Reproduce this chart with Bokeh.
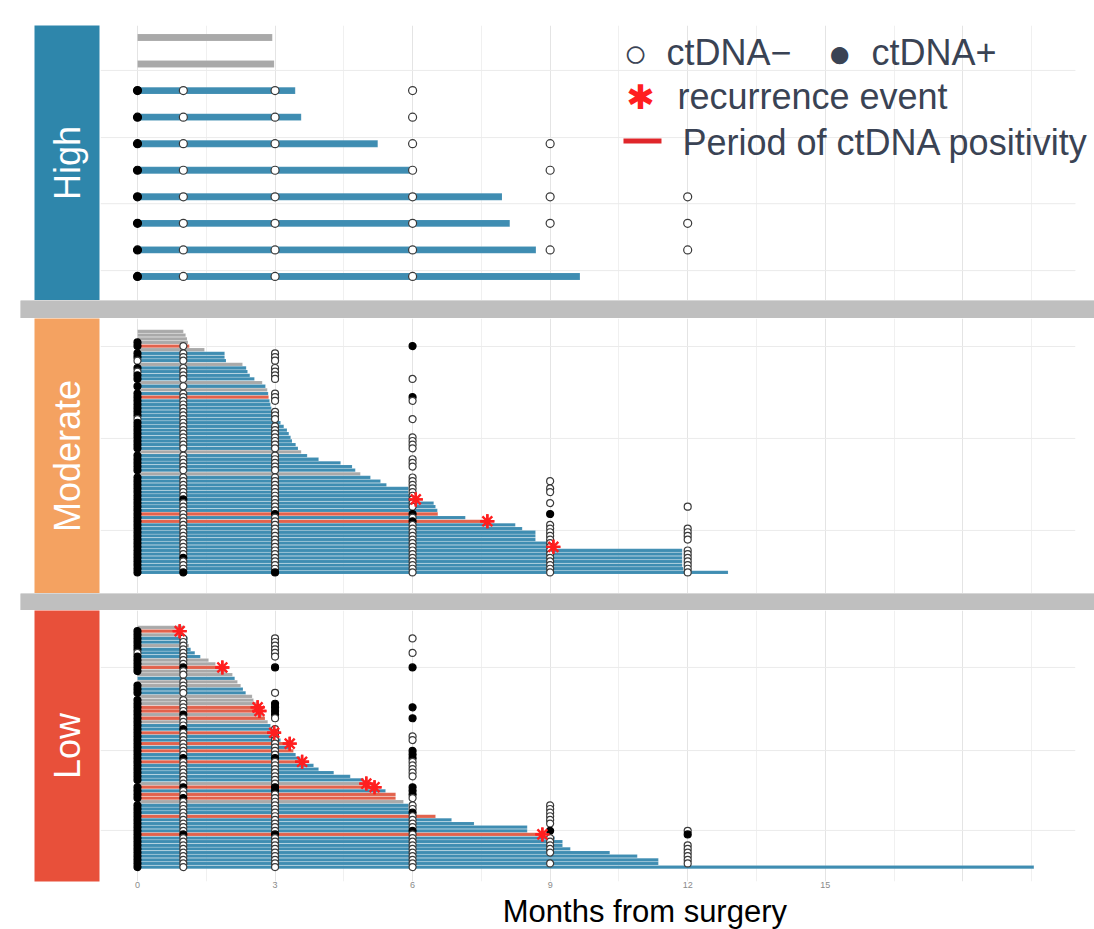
import math
from bokeh.plotting import figure
from bokeh.layouts import column, row
from bokeh.models import Range1d, FixedTicker, Label, ColumnDataSource
from bokeh.core.properties import value
from bokeh.embed import file_html
from bokeh.resources import INLINE

# ---------------- data ----------------
sample_months = [0, 1, 3, 6, 9, 12]          # ctDNA draw times
x_tick_months = [0, 3, 6, 9, 12, 15]
grid_major = [0, 3, 6, 9, 12, 15, 18]
grid_minor = [1.5, 4.5, 7.5, 10.5, 13.5, 16.5, 19.5]
panel_names = ["High", "Moderate", "Low"]

# bar colour codes: b = follow-up, g = no ctDNA data, r = period of ctDNA positivity
# sample codes per draw time: + ctDNA positive, o ctDNA negative, . no sample
high_end = [2.94, 2.98, 3.44, 3.57, 5.24, 6.00, 7.95, 8.12, 8.69, 9.65]
high_color = "ggbbbbbbbb"
high_samples = ["......", "......", "+ooo..", "+ooo..", "+oooo.",
                "+oooo.", "+ooooo", "+ooooo", "+ooooo", "+ooo.."]
high_star_row = []
high_star_month = []

mod_end = [1.00, 1.05, 1.08, 1.10, 1.13, 1.46, 1.90, 1.90, 1.93, 2.29,
           2.37, 2.40, 2.45, 2.55, 2.72, 2.79, 2.83, 2.85, 2.86, 2.88,
           2.90, 2.92, 2.95, 2.97, 3.08, 3.12, 3.19, 3.26, 3.30, 3.34,
           3.37, 3.45, 3.50, 3.57, 3.70, 3.95, 4.43, 4.68, 4.75, 4.86,
           5.08, 5.30, 5.43, 5.91, 5.91, 5.95, 6.07, 6.46, 6.50, 6.54,
           6.55, 7.15, 7.63, 8.24, 8.39, 8.68, 8.68, 8.68, 8.94, 9.07,
           11.88, 11.88, 11.88, 11.88, 11.88, 11.90, 12.88]
mod_color = ("ggggrgbbbg" "bbbbgbgbrb" "bbbbbbbbbb" "bbbgbbbbbg"
             "bbbbbbbbbb" "rbrbbbbbbb" "bbbbbbb")
mod_samples = ["......", "......", "......", "+.....", "+o.+..", "......", "+oo...", "+oo...", "ooo...", "......",
               "+oo...", "ooo...", "+oo...", "+ooo..", "......", "+o....", "......", "+oo...", "+oo+..", "+ooo..",
               "+o....", "+o....", "+oo...", "+oo...", "oooo..", "+o....", "+oo...", "+oo...", "+oo...", "+ooo..",
               "+ooo..", "+ooo..", "+ooo..", "......", "+oo...", "+ooo..", "+ooo..", "+ooo..", "+oo...", "......",
               "+ooo..", "+oooo.", "+ooo..", "+oooo.", "+oooo.", "+ooo..", "++oo..", "+oooo.", "+ooo.o", "+oo...",
               "+o+++.", "+ooo..", "+oo+..", "+oooo.", "+ooooo", "+ooooo", "+ooooo", "+ooooo", "+oooo.", "+oooo.",
               "+ooooo", "+ooooo", "++oooo", "+ooooo", "+ooooo", "+ooooo", "+++ooo"]
mod_star_row = [46, 52, 59]
mod_star_month = [6.07, 7.63, 9.07]

low_end = [1.00, 0.92, 1.02, 1.09, 1.09, 1.12, 1.16, 1.25, 1.37, 1.55,
           1.70, 1.85, 1.95, 2.07, 2.12, 2.18, 2.25, 2.30, 2.36, 2.50,
           2.53, 2.58, 2.62, 2.66, 2.72, 2.78, 2.84, 2.90, 2.93, 2.98,
           3.08, 3.12, 3.32, 3.35, 3.40, 3.45, 3.55, 3.59, 3.84, 3.95,
           4.28, 4.64, 4.93, 4.99, 5.17, 5.41, 5.63, 5.63, 5.80, 5.91,
           5.91, 5.95, 6.50, 6.85, 7.34, 8.50, 8.50, 8.83, 9.10, 9.27,
           9.27, 9.44, 10.30, 10.90, 11.36, 11.36, 19.55]
low_color = ("grgbbgbbbg" "grggbggbbg" "ggrrgrgbbr" "bbrbrbbrbb"
             "bbbgrbrrgb" "bbrbbbbrbb" "bbbbbbb")
low_samples = ["......", "+.....", "+.....", "+ooo..", "+oo...", "+oo...", "+oo...", "oooo..", "+oo...", "+o....",
               "+o....", "++++..", "+o....", ".o....", "......", ".o....", "+o....", "+o....", "+oo...", "......",
               "+o....", "+o+...", "+o++..", "+o+...", "+++...", "+oo+..", "+o....", "+o....", "++o...", "+oo...",
               "+ooo..", "+ooo..", "+oo...", "+oo...", "+oo+..", "+oo+..", "++++..", "+ooo..", "+ooo..", "+ooo..",
               "+ooo..", "+ooo..", "+oo...", ".oo...", "++++..", "+o++..", "+oo+..", "++oo..", ".oo...", "+oooo.",
               "+oooo.", "+oo+o.", "+oooo.", "+oooo.", "+oooo.", "+ooo..", "+oo++o", "+++o.+", "+oooo.", "+oooo.",
               "+ooooo", "+ooooo", "+ooooo", "+ooo.o", "+ooo.o", "+ooooo", "+ooo.."]
low_star_row = [1, 11, 22, 23, 29, 32, 37, 43, 44, 57]
low_star_month = [0.92, 1.85, 2.62, 2.66, 2.98, 3.32, 3.59, 4.99, 5.17, 8.83]

# ---------------- style ----------------
BLUE, GREY, RED = "#3f8db2", "#a9a9a9", "#e2624c"
FILL = {"b": BLUE, "g": GREY, "r": RED}
STRIP = ["#2e86ab", "#f4a261", "#e8503a"]
STAR = "#ff1f1f"
TXT = "#3a4354"
FONT = "Liberation Sans"

PANEL_X = (-0.807, 20.458)          # months shown inside each facet panel
XR = Range1d(*PANEL_X)
XR_HIGH = Range1d(-0.807, 20.873)   # same scale, frame reaches the page edge (legend)


def build_panel(end, colors, samples, star_row, star_month, height, top_b, bottom_b,
                y_top, y_bottom, bar_h, dot_size, grid_rows, with_axis, xr, right_b):
    p = figure(width=994, height=height, x_range=xr,
               y_range=Range1d(start=y_bottom, end=y_top),
               output_backend="svg", toolbar_location=None,
               min_border_left=0, min_border_right=right_b,
               min_border_top=top_b, min_border_bottom=bottom_b)
    p.outline_line_color = None
    p.background_fill_color = "white"
    p.border_fill_color = "white"
    p.yaxis.visible = False
    if with_axis:
        ax = p.xaxis[0]
        ax.ticker = FixedTicker(ticks=x_tick_months)
        ax.axis_line_color = None
        ax.major_tick_line_color = None
        ax.minor_tick_line_color = None
        ax.major_tick_out = 0
        ax.major_tick_in = 0
        ax.major_label_standoff = 0
        ax.major_label_text_font = FONT
        ax.major_label_text_font_size = "9px"
        ax.major_label_text_color = "#8a8a8a"
    else:
        p.xaxis.visible = False
    p.xgrid.ticker = FixedTicker(ticks=grid_major, minor_ticks=grid_minor)
    p.xgrid.grid_line_color = "#e4e4e4"
    p.xgrid.minor_grid_line_color = "#f0f0f0"
    p.ygrid.visible = False
    n = len(grid_rows)
    p.segment(x0=[PANEL_X[0]] * n, x1=[PANEL_X[1]] * n, y0=grid_rows, y1=grid_rows,
              line_color="#ebebeb", line_width=1)

    rows = list(range(len(end)))
    bars = ColumnDataSource(dict(y=rows, right=end, fill=[FILL[c] for c in colors]))
    p.hbar(y="y", left=0, right="right", height=bar_h, fill_color="fill",
           line_color="white", line_alpha=0.18, line_width=0.6, source=bars)

    dx, dy, dfill, dline = [], [], [], []
    for i, s in enumerate(samples):
        for j, ch in enumerate(s):
            if ch == ".":
                continue
            dx.append(sample_months[j])
            dy.append(i)
            dfill.append("black" if ch == "+" else "white")
            dline.append("black" if ch == "+" else "#3a3a3a")
    dots = ColumnDataSource(dict(x=dx, y=dy, fill=dfill, line=dline))
    p.scatter("x", "y", source=dots, marker="circle", size=dot_size,
              fill_color="fill", line_color="line", line_width=1.2)

    if star_row:
        st = ColumnDataSource(dict(x=star_month, y=star_row))
        for mk in ("asterisk", "cross"):
            p.scatter("x", "y", source=st, marker=mk, size=14,
                      line_color=STAR, line_width=2.4)
    return p


def strip(name, color, height, top_b, bottom_b):
    s = figure(width=100, height=height, x_range=Range1d(0, 1), y_range=Range1d(0, 1),
               output_backend="svg", toolbar_location=None,
               min_border_left=34, min_border_right=1,
               min_border_top=top_b, min_border_bottom=bottom_b)
    s.background_fill_color = color
    s.border_fill_color = "white"
    s.outline_line_color = None
    s.axis.visible = False
    s.grid.visible = False
    s.text(x=[0.5], y=[0.5], text=[name], angle=math.pi / 2, text_align="center",
           text_baseline="middle", text_color="white",
           text_font=value(FONT), text_font_size="36px")
    return s


def separator(height):
    s = figure(width=1094, height=height, x_range=Range1d(0, 1), y_range=Range1d(0, 1),
               output_backend="svg", toolbar_location=None,
               min_border_left=20, min_border_right=0, min_border_top=0, min_border_bottom=0)
    s.background_fill_color = "#bfbfbf"
    s.border_fill_color = "white"
    s.outline_line_color = None
    s.axis.visible = False
    s.grid.visible = False
    s.quad(left=[0], right=[1], bottom=[0], top=[1], fill_color="#bfbfbf", line_color=None)
    return s


fig_h = build_panel(high_end, high_color, high_samples, high_star_row, high_star_month,
                    300, 25, 0, -0.452, 9.906, 0.26, 8, [1.24, 3.77, 6.26, 8.78], False,
                    XR_HIGH, 0)
fig_m = build_panel(mod_end, mod_color, mod_samples, mod_star_row, mod_star_month,
                    275, 0, 0, -3.562, 71.78, 0.9, 7, [4.1, 29.3, 54.5], False, XR, 19)
fig_l = build_panel(low_end, low_color, low_samples, low_star_row, low_star_month,
                    282, 0, 11, -4.683, 69.97, 0.9, 7, [11.0, 33.9, 55.9], True, XR, 19)


# ---------------- legend (in the High panel) ----------------
def hx(px):
    return (px - 137) / 45.85


def hy(py):
    return (py - 37) / 26.55


def lab(px, py, txt, size="36px", color=TXT, font=FONT, align="left"):
    fig_h.add_layout(Label(x=hx(px), y=hy(py), text=txt, text_font=font,
                           text_font_size=size, text_color=color,
                           text_baseline="middle", text_align=align))


lab(623, 52, "○", size="40px")
lab(666, 52, "ctDNA−")
lab(827, 52, "●", size="40px")
lab(871, 52, "ctDNA+")
lab(640, 97, "✱", size="34px", color=STAR, font="DejaVu Sans", align="center")
lab(677, 96, "recurrence event")
lab(682, 142, "Period of ctDNA positivity")
fig_h.segment(x0=[hx(623)], x1=[hx(661)], y0=[hy(140.5)], y1=[hy(140.5)],
              line_color="#e0262a", line_width=5)

strip_h = strip(panel_names[0], STRIP[0], 300, 25, 0)
strip_m = strip(panel_names[1], STRIP[1], 275, 0, 0)
strip_l = strip(panel_names[2], STRIP[2], 282, 0, 4)

title = figure(width=1094, height=37, x_range=Range1d(0, 1094), y_range=Range1d(0, 37),
               output_backend="svg", toolbar_location=None,
               min_border_left=0, min_border_right=0, min_border_top=0, min_border_bottom=0)
title.outline_line_color = None
title.axis.visible = False
title.grid.visible = False
title.text(x=[636], y=[0.5], text=["Months from surgery"], text_align="center",
           text_baseline="bottom", text_color="black",
           text_font=value(FONT), text_font_size="31px")

layout = column(row(strip_h, fig_h), separator(18), row(strip_m, fig_m),
                separator(17), row(strip_l, fig_l), title)

open("out.html", "w").write(file_html(layout, INLINE))
